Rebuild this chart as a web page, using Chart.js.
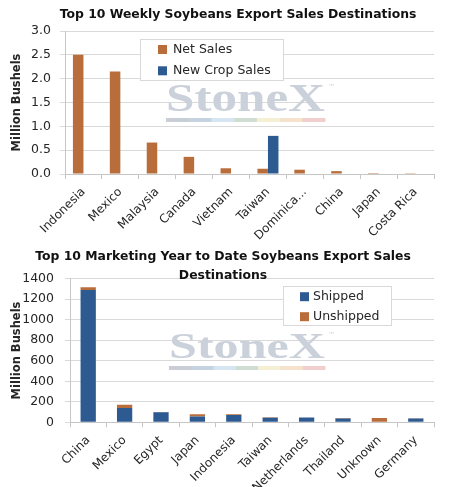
<!DOCTYPE html>
<html><head><meta charset="utf-8">
<script src="https://cdn.jsdelivr.net/npm/chart.js@4.4.1/dist/chart.umd.min.js"></script>
<style>
html,body{margin:0;padding:0;background:#fff;}
#wrap{position:relative;width:457px;height:487px;overflow:hidden;background:#fff;}
canvas{position:absolute;left:0;}
</style></head><body>
<div id="wrap">
<canvas id="c1" width="457" height="240" style="top:0;width:457px;height:240px"></canvas>
<canvas id="c2" width="457" height="247" style="top:240px;width:457px;height:247px"></canvas>
</div>
<script>
// ---- data ----
const weeklyCategories = ['Indonesia','Mexico','Malaysia','Canada','Vietnam','Taiwan','Dominica...','China','Japan','Costa Rica'];
const netSales = [2.50, 2.15, 0.66, 0.36, 0.12, 0.11, 0.09, 0.06, 0.02, 0.004];
const newCropSales = [0, 0, 0, 0, 0, 0.80, 0, 0, 0, 0];

const mytdCategories = ['China','Mexico','Egypt','Japan','Indonesia','Taiwan','Netherlands','Thailand','Unknown','Germany'];
const shipped = [1290, 140, 98, 56, 70, 44, 46, 36, 0, 38];
const unshipped = [26, 32, 2, 23, 8, 6, 2, 6, 43, 1];

const weeklyTitle = 'Top 10 Weekly Soybeans Export Sales Destinations';
const mytdTitle = ['Top 10 Marketing Year to Date Soybeans Export Sales', 'Destinations'];
const yTitle = 'Million Bushels';

// ---- style ----
const ORANGE = '#B86D3A';
const BLUE = '#2E5A92';
const GRID = '#d9d9d9';
const AXIS = '#c6c6c6';
const TXT = '#262626';
const YTICK_FONT = {family: '"DejaVu Sans"', size: 12.5};
const XTICK_FONT = {family: '"DejaVu Sans"', size: 12};
const WM_BAR = ['#c9ced6','#c5d2df','#d5e5f1','#cfddd3','#f5f0d3','#f5e2cb','#f1cfcf'];

const titlePlugin = {
  id: 'titleText',
  afterDraw(chart, args, o) {
    const ctx = chart.ctx;
    ctx.save();
    ctx.font = o.font;
    ctx.fillStyle = o.color;
    ctx.textAlign = 'center';
    ctx.textBaseline = 'middle';
    o.lines.forEach(l => ctx.fillText(l.text, l.x, l.y));
    ctx.restore();
  }
};

const watermarkPlugin = {
  id: 'stonex',
  beforeDatasetsDraw(chart, args, o) {
    const ctx = chart.ctx;
    ctx.save();
    ctx.font = 'bold ' + o.size + 'px "Liberation Serif"';
    const w = ctx.measureText('StoneX').width;
    ctx.translate(o.x, o.baseline);
    ctx.scale(o.width / w, 1);
    ctx.fillStyle = o.color;
    ctx.textBaseline = 'alphabetic';
    ctx.fillText('StoneX', 0, 0);
    ctx.restore();
    ctx.save();
    ctx.font = '7px "DejaVu Sans"';
    ctx.fillStyle = o.color;
    ctx.textBaseline = 'middle';
    ctx.fillText('\u2122', o.x + o.width + 3, o.baseline - o.size * 0.62);
    const segW = o.width / WM_BAR.length;
    WM_BAR.forEach((c, i) => { ctx.fillStyle = c; ctx.fillRect(o.x + i * segW, o.barY, segW + 0.5, o.barH); });
    ctx.restore();
  }
};

const boxLegend = {
  id: 'boxLegend',
  afterDatasetsDraw(chart, args, o) {
    const ctx = chart.ctx;
    ctx.save();
    ctx.fillStyle = '#fff';
    ctx.fillRect(o.x, o.y, o.w, o.h);
    ctx.strokeStyle = GRID; ctx.lineWidth = 1;
    ctx.strokeRect(o.x + 0.5, o.y + 0.5, o.w - 1, o.h - 1);
    ctx.font = o.font; ctx.textBaseline = 'middle'; ctx.textAlign = 'left';
    chart.data.datasets.forEach((ds, i) => {
      const cy = o.y + o.firstRow + i * o.rowGap;
      ctx.fillStyle = ds.backgroundColor;
      ctx.fillRect(o.x + o.swatchX, cy - o.swatch / 2, o.swatch, o.swatch);
      ctx.fillStyle = TXT;
      ctx.fillText(ds.label, o.x + o.textX, cy);
    });
    ctx.restore();
  }
};

function axes(yMax, step, yWidth, xHeight, fmt, tickPad, stacked) {
  return {
    x: {
      stacked: stacked,
      afterFit(s) { s.height = xHeight; },
      grid: {display: true, drawOnChartArea: false, drawTicks: true, tickLength: 5, color: AXIS, offset: true},
      border: {display: true, color: AXIS},
      ticks: {autoSkip: false, maxRotation: 45, minRotation: 45, color: TXT, font: XTICK_FONT, padding: 6}
    },
    y: {
      stacked: stacked,
      min: 0, max: yMax,
      afterFit(s) { s.width = yWidth; },
      grid: {color: GRID, tickLength: 5, drawTicks: true},
      border: {display: true, color: AXIS},
      ticks: {stepSize: step, color: TXT, font: YTICK_FONT, padding: tickPad, callback: fmt},
      title: {display: true, text: yTitle, color: TXT, font: {family: '"DejaVu Sans"', size: 11.5, weight: 'bold'}, padding: {top: 10, bottom: 0}}
    }
  };
}

new Chart(document.getElementById('c1'), {
  type: 'bar',
  data: {
    labels: weeklyCategories,
    datasets: [
      {label: 'Net Sales', data: netSales, backgroundColor: ORANGE, categoryPercentage: 0.57, barPercentage: 1},
      {label: 'New Crop Sales', data: newCropSales, backgroundColor: BLUE, categoryPercentage: 0.57, barPercentage: 1}
    ]
  },
  options: {
    responsive: false, animation: false, devicePixelRatio: 1,
    layout: {padding: {left: 0, top: 31, right: 23, bottom: 0}},
    scales: axes(3, 0.5, 65, 66, v => Number(v).toFixed(1), 9, false),
    plugins: {
      legend: {display: false}, tooltip: {enabled: false},
      titleText: {font: 'bold 12.4px "DejaVu Sans"', color: '#111', lines: [{text: weeklyTitle, x: 238, y: 15}]},
      stonex: {x: 166, width: 159, baseline: 111, size: 39, color: '#cbd1da', barY: 118, barH: 4},
      boxLegend: {x: 140, y: 39, w: 144, h: 42, firstRow: 10.5, rowGap: 21.3, swatchX: 18, swatch: 9, textX: 33, font: '12.5px "DejaVu Sans"'}
    }
  },
  plugins: [watermarkPlugin, boxLegend, titlePlugin]
});

new Chart(document.getElementById('c2'), {
  type: 'bar',
  data: {
    labels: mytdCategories,
    datasets: [
      {label: 'Shipped', data: shipped, backgroundColor: BLUE, categoryPercentage: 0.42, barPercentage: 1},
      {label: 'Unshipped', data: unshipped, backgroundColor: ORANGE, categoryPercentage: 0.42, barPercentage: 1}
    ]
  },
  options: {
    responsive: false, animation: false, devicePixelRatio: 1,
    layout: {padding: {left: 0, top: 38.7, right: 23, bottom: 0}},
    scales: axes(1400, 200, 70, 64.7, v => String(v), 11, true),
    plugins: {
      legend: {display: false}, tooltip: {enabled: false},
      titleText: {font: 'bold 12.4px "DejaVu Sans"', color: '#111', lines: [{text: mytdTitle[0], x: 223, y: 17}, {text: mytdTitle[1], x: 223, y: 36}]},
      stonex: {x: 169, width: 156, baseline: 118, size: 36, color: '#cbd1da', barY: 126, barH: 4},
      boxLegend: {x: 283, y: 46, w: 109, h: 40, firstRow: 10.7, rowGap: 20, swatchX: 17, swatch: 9, textX: 30, font: '12.5px "DejaVu Sans"'}
    }
  },
  plugins: [watermarkPlugin, boxLegend, titlePlugin]
});
</script>
</body></html>
